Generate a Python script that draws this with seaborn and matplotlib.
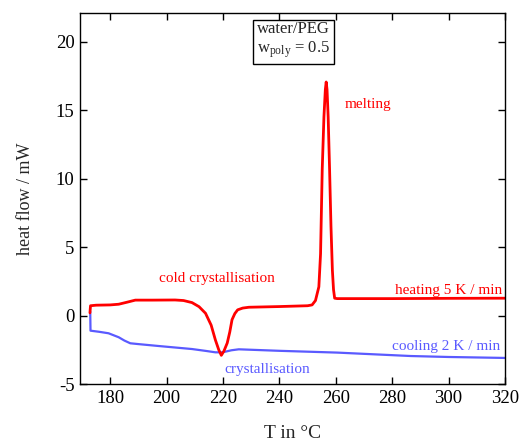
"""DSC trace of water/PEG: heating and cooling heat flow vs temperature."""

import matplotlib
matplotlib.use("Agg")
import matplotlib.pyplot as plt
import pandas as pd
import seaborn as sns

# heating run, 5 K/min
heating_T = [172.8, 173.0, 175, 180, 183, 186, 188.9, 195, 203, 206, 209, 211.5,
             213.8, 215.8, 217.3, 218.5, 219.4, 220.3, 221.5, 222.4, 223.2, 224.2,
             225.2, 227, 229.2, 240, 250, 251.6, 252.8, 254, 254.6, 255.2, 255.8,
             256.3, 256.6, 256.9, 257.3, 257.8, 258.3, 258.8, 259.2, 259.6, 260.5,
             261.7, 280, 300, 320]
heating_hf = [0.2, 0.72, 0.76, 0.78, 0.83, 0.98, 1.13, 1.13, 1.14, 1.1, 0.95, 0.65,
              0.17, -0.7, -1.78, -2.5, -2.9, -2.6, -2.0, -1.2, -0.3, 0.15,
              0.42, 0.55, 0.61, 0.66, 0.72, 0.78, 1.1, 2.1, 4.5, 10.7, 14.5,
              16.5, 17.05, 16.5, 14.5, 10.7, 6.5, 3.3, 1.9, 1.27, 1.24,
              1.24, 1.24, 1.26, 1.27]

# cooling run, 2 K/min
cooling_T = [172.9, 173.0, 176, 179.4, 183, 185, 187.1, 190, 197.2, 209, 214,
             217.3, 219.5, 220.9, 223, 225.6, 240, 260.5, 286.6, 300, 320]
cooling_hf = [0.3, -1.1, -1.18, -1.29, -1.58, -1.82, -2.02, -2.08, -2.22, -2.44, -2.58,
              -2.68, -2.68, -2.63, -2.53, -2.46, -2.57, -2.7, -2.95, -3.02, -3.09]

x_ticks = [180, 200, 220, 240, 260, 280, 300, 320]
y_ticks = [-5, 0, 5, 10, 15, 20]

RED = "#ff0000"
BLUE = "#5a5aff"

sns.set_theme(style="ticks")
plt.rcParams["font.family"] = ["Liberation Serif", "DejaVu Serif"]
plt.rcParams["mathtext.fontset"] = "stix"
plt.rcParams["axes.unicode_minus"] = False

heating = pd.DataFrame({"T": heating_T, "hf": heating_hf})
cooling = pd.DataFrame({"T": cooling_T, "hf": cooling_hf})

fig = plt.figure(figsize=(5.2, 4.41), dpi=100)
ax = fig.add_axes([0.154, 0.129, 0.817, 0.842])

sns.lineplot(data=cooling, x="T", y="hf", ax=ax, color=BLUE, linewidth=1.6,
             sort=False, estimator=None)
sns.lineplot(data=heating, x="T", y="hf", ax=ax, color=RED, linewidth=2.0,
             sort=False, estimator=None)

ax.set_xlim(169.3, 320)
ax.set_ylim(-5, 22.1)
ax.set_xticks(x_ticks)
ax.set_yticks(y_ticks)
ax.tick_params(direction="in", length=5, width=1, top=True, right=True,
               labelsize=13.5, colors="black", pad=4)
for spine in ax.spines.values():
    spine.set_visible(True)
    spine.set_linewidth(1.0)
    spine.set_color("black")

ax.set_xlabel("T in °C", fontsize=14, labelpad=13)
ax.set_ylabel("heat flow / mW", fontsize=13, labelpad=16)

ax.text(218, 2.68, "cold crystallisation", color=RED, fontsize=11, ha="center", va="center")
ax.text(319.2, 1.83, "heating 5 K / min", color=RED, fontsize=11, ha="right", va="center")
ax.text(263.2, 15.4, "melting", color=RED, fontsize=11, ha="left", va="center")
ax.text(318.3, -2.27, "cooling 2 K / min", color=BLUE, fontsize=11, ha="right", va="center")
ax.text(235.7, -3.9, "crystallisation", color=BLUE, fontsize=11, ha="center", va="center")

ax.text(0.502, 0.925, "water/PEG\n$\\mathregular{w_{poly}}$ = 0.5", transform=ax.transAxes,
        fontsize=12, ha="center", va="center", linespacing=1.2,
        bbox=dict(boxstyle="square,pad=0.25", facecolor="white", edgecolor="black",
                  linewidth=1.0))

fig.savefig("out.png", dpi=100)
